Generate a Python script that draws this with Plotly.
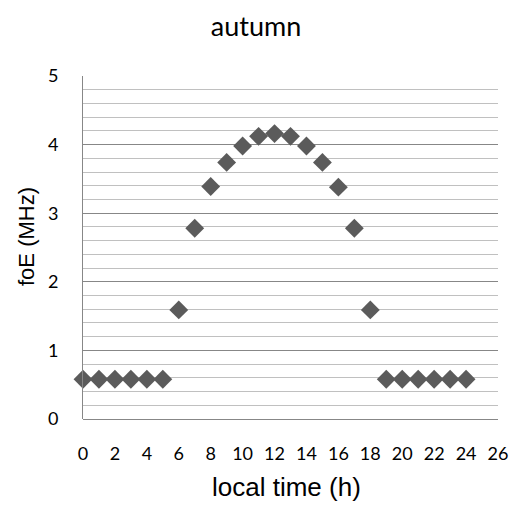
import plotly.graph_objects as go

hours = list(range(0, 25))
foE = [0.58, 0.58, 0.58, 0.58, 0.58, 0.58, 1.59, 2.78, 3.39, 3.74, 3.98, 4.12, 4.16,
       4.12, 3.98, 3.74, 3.38, 2.78, 1.59, 0.58, 0.58, 0.58, 0.58, 0.58, 0.58]
x_ticks = list(range(0, 27, 2))
y_ticks = [0, 1, 2, 3, 4, 5]

# page body has an 8px default margin, so the figure is sized/shifted to compensate
W, H = 512, 497
ML, MR, MT, MB = 75, 22, 68, 86
PW, PH = W - ML - MR, H - MT - MB


def px_to_paper_x(px):
    return (px - 8 - ML) / PW


def px_to_paper_y(py):
    return (H - MB - (py - 8)) / PH


fig = go.Figure()
fig.add_trace(go.Scatter(
    x=hours, y=foE, mode="markers",
    marker=dict(symbol="diamond", size=14.5, color="#5b5b5b", line=dict(width=0)),
    showlegend=False, cliponaxis=False,
))

fig.update_layout(
    width=W, height=H,
    margin=dict(l=ML, r=MR, t=MT, b=MB, autoexpand=False),
    paper_bgcolor="white", plot_bgcolor="white",
    title=dict(text="autumn", x=248/W, xanchor="center", y=1-19/H, yanchor="middle",
               font=dict(family="Lato", size=27, color="#000000")),
    font=dict(family="Lato", color="#000000"),
    annotations=[
        dict(text="local time (h)", xref="paper", yref="paper",
             x=px_to_paper_x(286), y=px_to_paper_y(487), xanchor="center", yanchor="middle",
             showarrow=False, font=dict(family="Liberation Sans", size=26, color="#000000")),
        dict(text="foE (MHz)", xref="paper", yref="paper", textangle=-90,
             x=px_to_paper_x(26), y=px_to_paper_y(237), xanchor="center", yanchor="middle",
             showarrow=False, font=dict(family="Liberation Sans", size=22, color="#000000")),
    ],
)
fig.update_xaxes(
    range=[0, 26], tickvals=x_ticks, ticktext=[str(v) for v in x_ticks],
    showgrid=False, zeroline=False, showline=False, automargin=False,
    tickfont=dict(family="Lato", size=18, color="#000000"),
    ticks="", ticklabelstandoff=22,
    fixedrange=True,
)
fig.update_yaxes(
    range=[0, 5], tickvals=y_ticks, ticktext=[str(v) for v in y_ticks],
    showgrid=True, gridcolor="#878787", gridwidth=1,
    zeroline=True, zerolinecolor="#878787", zerolinewidth=1,
    showline=True, linecolor="#878787", linewidth=1, automargin=False,
    minor=dict(dtick=0.2, showgrid=True, gridcolor="#c0c0c0", gridwidth=1),
    tickfont=dict(family="Lato", size=18, color="#000000"),
    ticks="", ticklabelstandoff=20,
    fixedrange=True,
)

fig.write_html("out.html")
